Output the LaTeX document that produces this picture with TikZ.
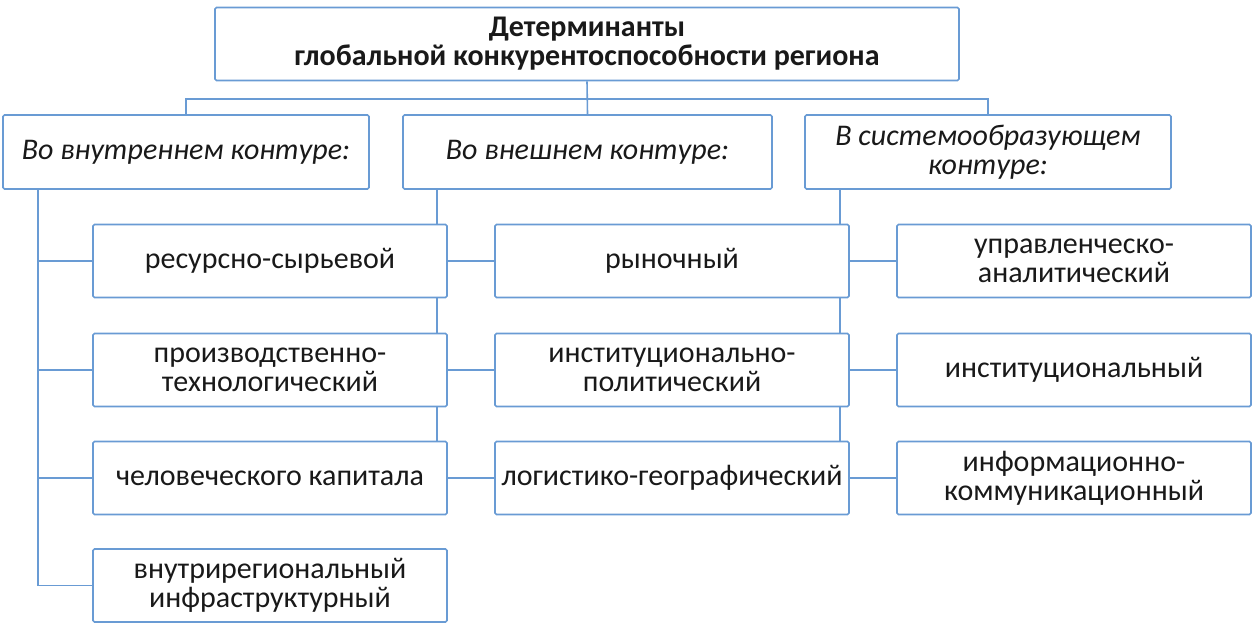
\documentclass[tikz,border=0pt]{standalone}
\usepackage{fontspec}
\setmainfont{Carlito}
\usetikzlibrary{backgrounds}
\definecolor{boxblue}{RGB}{105,155,212}
\tikzset{
  box/.style={draw=boxblue, line width=1.6pt, fill=white, rounded corners=1.5pt,
    align=center, inner sep=4pt, text=black!90, font=\fontsize{30}{29}\selectfont},
  link/.style={draw=boxblue, line width=1.6pt},
}
\begin{document}
\begin{tikzpicture}[x=1pt, y=-1pt]
  \useasboundingbox (0,0) rectangle (1252,628);

  % Draw the title box
  \node[box, minimum width=744, minimum height=73, font=\fontsize{30}{29}\selectfont\bfseries] (top) at (587,44)
    {Детерминанты\\глобальной конкурентоспособности региона};

  % Draw the three contour boxes
  \node[box, minimum width=366, minimum height=74, font=\fontsize{30}{29}\selectfont\itshape] (inner) at (186,152) {Во внутреннем контуре:};
  \node[box, minimum width=369, minimum height=74, font=\fontsize{30}{29}\selectfont\itshape] (outer) at (587.5,152) {Во внешнем контуре:};
  \node[box, minimum width=366, minimum height=74, font=\fontsize{30}{29}\selectfont\itshape] (sys) at (988,152) {В системообразующем\\контуре:};

  % Draw the inner contour determinants
  \node[box, minimum width=354, minimum height=73] (l1) at (270,261) {ресурсно-сырьевой};
  \node[box, minimum width=354, minimum height=73] (l2) at (270,370) {производственно-\\технологический};
  \node[box, minimum width=354, minimum height=73] (l3) at (270,478) {человеческого капитала};
  \node[box, minimum width=354, minimum height=73] (l4) at (270,585.5) {внутрирегиональный\\инфраструктурный};

  % Draw the outer contour determinants
  \node[box, minimum width=354, minimum height=73] (m1) at (672,261) {рыночный};
  \node[box, minimum width=354, minimum height=73] (m2) at (672,370) {институционально-\\политический};
  \node[box, minimum width=354, minimum height=73] (m3) at (672,478) {логистико-географический};

  % Draw the system-forming contour determinants
  \node[box, minimum width=354, minimum height=73] (s1) at (1074,261) {управленческо-\\аналитический};
  \node[box, minimum width=354, minimum height=73] (s2) at (1074,370) {институциональный};
  \node[box, minimum width=354, minimum height=73] (s3) at (1074,478) {информационно-\\коммуникационный};

  % Connectors behind the boxes
  \begin{scope}[on background layer]
    \draw[link] (inner.north) |- ([yshift=-17.5]top.south) -| (sys.north);
    \draw[link] (top.south) -- (outer.north);

    \coordinate (tin) at ([xshift=36]inner.south west);
    \draw[link] (tin) |- (l4.west);
    \foreach \n in {l1,l2,l3}
      \draw[link] (tin |- \n.west) -- (\n.west);

    \coordinate (tout) at ([xshift=35]outer.south west);
    \draw[link] (tout) -- (tout |- m3.north);
    \foreach \n in {m1,m2,m3}
      \draw[link] (tout |- \n.west) -- (\n.west);

    \coordinate (tsys) at ([xshift=36]sys.south west);
    \draw[link] (tsys) -- (tsys |- s3.north);
    \foreach \n in {s1,s2,s3}
      \draw[link] (tsys |- \n.west) -- (\n.west);
  \end{scope}
\end{tikzpicture}
\end{document}
